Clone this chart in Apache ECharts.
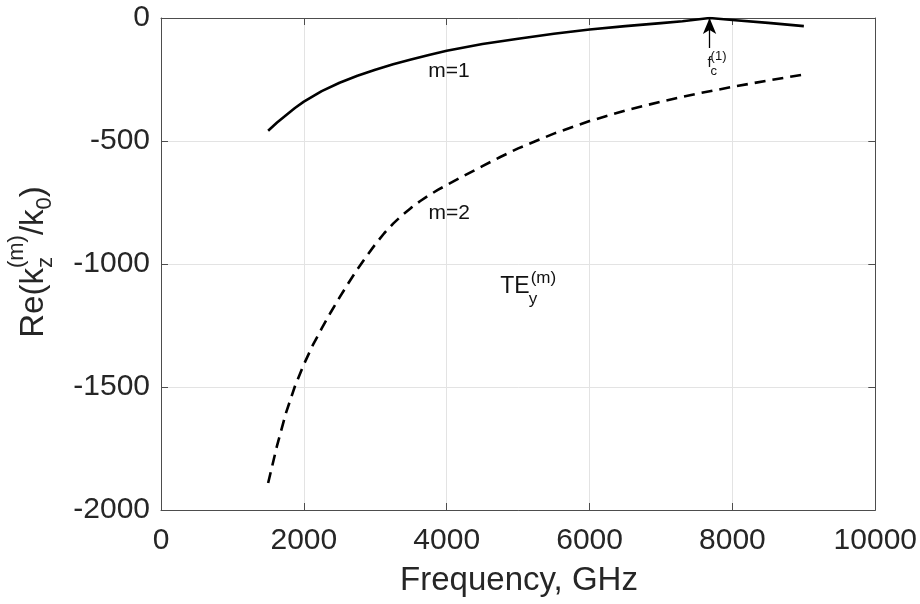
<!DOCTYPE html>
<html><head><meta charset="utf-8">
<script src="https://cdn.jsdelivr.net/npm/echarts@6/dist/echarts.min.js"></script>
<style>html,body{margin:0;padding:0;background:#fff}#c{width:920px;height:604px}</style>
</head><body><div id="c"></div>
<script>
// ---- data ----
const freqM1 = [1500, 1625, 1750, 1875, 2000, 2250, 2500, 2750, 3000, 3250, 3500, 3750, 4000, 4500, 5000, 5500, 6000, 6500, 7000, 7300, 7680, 8000, 8500, 9000];
const reM1   = [-458, -425, -395, -366, -340, -297, -263, -235, -210, -188, -169, -150, -133, -106, -84, -64, -47, -33, -21, -13, 0, -8, -20, -33];
const freqM2 = [1500, 1625, 1750, 1875, 2000, 2125, 2250, 2375, 2500, 2625, 2750, 2875, 3000, 3125, 3250, 3375, 3500, 3625, 3750, 3875, 4000, 4250, 4500, 4750, 5000, 5500, 6000, 6500, 7000, 7500, 8000, 8500, 9000];
const reM2   = [-1890, -1738, -1605, -1497, -1408, -1330, -1262, -1197, -1136, -1077, -1021, -969, -920, -875, -836, -802, -772, -745, -721, -699, -679, -640, -602, -565, -530, -470, -419, -376, -340, -308, -280, -254, -230];
const xTicks = [0, 2000, 4000, 6000, 8000, 10000];
const yTicks = [-2000, -1500, -1000, -500, 0];
const cutoffFreq = 7680;      // f_c^(1)
const arrowFrom = -122;       // arrow tail value

const FONT = '"Liberation Sans", Arial, Helvetica, sans-serif';
const TXT = '#262626';

const chart = echarts.init(document.getElementById('c'), null, {renderer: 'canvas'});
const zip = (a, b) => a.map((v, i) => [v, b[i]]);

const axisCommon = {
  axisLine: {show: true, onZero: false, lineStyle: {color: '#4d4d4d', width: 1}},
  axisTick: {show: true, inside: true, length: 7, lineStyle: {color: '#4d4d4d', width: 1}},
};
const plain = v => String(v);

chart.setOption({
  animation: false,
  backgroundColor: '#fff',
  grid: {left: 161, right: 42, top: 18, bottom: 94, containLabel: false},
  xAxis: [
    Object.assign({
      type: 'value', min: xTicks[0], max: xTicks[xTicks.length - 1], interval: 2000,
      axisLabel: {show: true, margin: 16, fontSize: 30, fontFamily: FONT, color: TXT, formatter: plain},
      splitLine: {show: true, lineStyle: {color: '#e3e3e3', width: 1}},
    }, axisCommon),
    Object.assign({
      type: 'value', position: 'top', min: xTicks[0], max: xTicks[xTicks.length - 1], interval: 2000,
      axisLabel: {show: false}, splitLine: {show: false},
    }, axisCommon)
  ],
  yAxis: [
    Object.assign({
      type: 'value', min: yTicks[0], max: yTicks[yTicks.length - 1], interval: 500,
      axisLabel: {show: true, margin: 11, fontSize: 30, fontFamily: FONT, color: TXT, formatter: plain},
      splitLine: {show: true, lineStyle: {color: '#e3e3e3', width: 1}},
    }, axisCommon),
    Object.assign({
      type: 'value', position: 'right', min: yTicks[0], max: yTicks[yTicks.length - 1], interval: 500,
      axisLabel: {show: false}, splitLine: {show: false},
    }, axisCommon)
  ],
  series: [
    {
      name: 'm=1', type: 'line', data: zip(freqM1, reM1), showSymbol: false, smooth: false,
      lineStyle: {color: '#000', width: 2.6, type: 'solid', join: 'round'}, z: 5,
      markLine: {
        silent: true, symbol: ['none', 'arrow'], symbolSize: [10, 16],
        label: {show: false},
        lineStyle: {color: '#000', width: 1.3, type: 'solid'},
        data: [[{coord: [cutoffFreq, arrowFrom]}, {coord: [cutoffFreq, 0]}]]
      }
    },
    {
      name: 'm=2', type: 'line', data: zip(freqM2, reM2), showSymbol: false, smooth: false,
      lineStyle: {color: '#000', width: 2.6, type: [11, 7], join: 'round'}, z: 5
    }
  ]
});

// ---- annotations, anchored in data coordinates ----
const px = (x, y) => chart.convertToPixel({gridIndex: 0}, [x, y]);
// text element: left edge x, baseline y
function t(x, base, str, size, extra) {
  return Object.assign({
    type: 'text', x: x, y: base - 0.35 * size,
    style: {text: str, fontSize: size, fontFamily: FONT, fill: '#111', align: 'left', verticalAlign: 'middle'}
  }, extra || {});
}
const mctx = document.createElement('canvas').getContext('2d');
function w(str, size) { mctx.font = size + 'px ' + FONT; return mctx.measureText(str).width; }

const g = [];
// m=1 , m=2
const a1 = px(4032, -218);
g.push({type: 'text', x: a1[0], y: a1[1], style: {text: 'm=1', fontSize: 21, fontFamily: FONT, fill: '#111', align: 'center', verticalAlign: 'middle'}});
const a2 = px(4036, -795);
g.push({type: 'text', x: a2[0], y: a2[1], style: {text: 'm=2', fontSize: 21, fontFamily: FONT, fill: '#111', align: 'center', verticalAlign: 'middle'}});
// TE_y^(m)
const te = px(4750, -1126);
const wTE = w('TE', 23);
g.push(t(te[0], te[1], 'TE', 23));
g.push(t(te[0] + wTE + 1, te[1] - 11, '(m)', 17));
g.push(t(te[0] + wTE - 1, te[1] + 10, 'y', 17));
// f_c^(1)
const fc = px(7650, -203);
const wf = w('f', 15);
g.push(t(fc[0], fc[1], 'f', 15));
g.push(t(fc[0] + wf - 1, fc[1] - 7, '(1)', 13));
g.push(t(fc[0] + wf - 1, fc[1] + 8, 'c', 13));

// x axis title
g.push({type: 'text', x: 519, y: 581, style: {text: 'Frequency, GHz', fontSize: 33, fontFamily: FONT, fill: TXT, align: 'center', verticalAlign: 'middle'}});

// y axis title: Re(k_z^(m)/k_0) rotated
const M = 33, S = 22;
const kids = [];
let cx = 0;
kids.push(t(cx, 0, 'Re(k', M)); cx += w('Re(k', M);
kids.push(t(cx, 9, 'z', S));
kids.push(t(cx, -20, '(m)', S));
cx += Math.max(w('z', S), w('(m)', S));
kids.push(t(cx, 0, '/k', M)); cx += w('/k', M);
kids.push(t(cx, 8, '0', S)); cx += w('0', S);
kids.push(t(cx, 0, ')', M)); cx += w(')', M);
kids.forEach(k => k.style.fill = TXT);
g.push({type: 'group', x: 45, y: 262 + cx / 2, rotation: Math.PI / 2, children: kids});

chart.setOption({graphic: g});
</script>
</body></html>
